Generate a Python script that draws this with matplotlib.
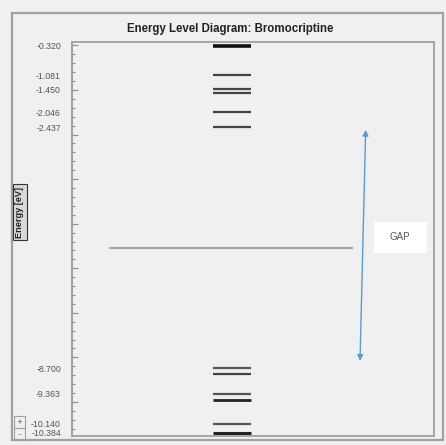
import numpy as np
import matplotlib
matplotlib.use("Agg")
import matplotlib.pyplot as plt
from matplotlib.patches import Rectangle
from matplotlib.ticker import FixedLocator

# ---- data ----
title = "Energy Level Diagram: Bromocriptine"
ylabel = "Energy [eV]"
unoccupied = [-0.320, -1.081, -1.450, -1.550, -2.046, -2.437]
occupied = [-8.700, -8.860, -9.363, -9.530, -10.140, -10.384]
tick_values = [-0.320, -1.081, -1.450, -2.046, -2.437, -8.700, -9.363, -10.140, -10.384]
tick_labels = ["-0.320", "-1.081", "-1.450", "-2.046", "-2.437", "-8.700", "-9.363", "-10.140", "-10.384"]
lumo = -2.437
homo = -8.700
gap_arrow_top = -2.50
gap_arrow_bottom = -8.51
gap_label = "GAP"

# ---- style ----
unocc_widths = [2.6, 1.6, 1.6, 1.6, 1.6, 1.6]
unocc_colors = ["#111111", "#444444", "#444444", "#444444", "#444444", "#444444"]
occ_widths = [1.6, 1.6, 1.6, 2.0, 1.6, 2.2]
occ_colors = ["#555555", "#444444", "#555555", "#222222", "#555555", "#222222"]

bg = "#f0f0f0"
frame = "#a0a0a0"

fig = plt.figure(figsize=(4.46, 4.45), dpi=100, facecolor=bg)
W, H = 446, 445

def fx(px):
    return px / W

def fy(py):
    return 1 - py / H

# outer window frame
fig.patches.append(Rectangle((fx(12), fy(440)), fx(443) - fx(12), fy(13) - fy(440),
                             transform=fig.transFigure, fill=False, edgecolor=frame, linewidth=1.6))

ax = fig.add_axes([fx(72), fy(436), fx(434) - fx(72), fy(42) - fy(436)])
ax.set_facecolor(bg)
ax.set_xlim(0, 1)
ax.set_ylim(-10.463, -0.216)
for s in ax.spines.values():
    s.set_color(frame)
    s.set_linewidth(1.3)

# energy levels
for e, lw, c in zip(unoccupied, unocc_widths, unocc_colors):
    ax.hlines(e, 0.3895, 0.4945, colors=c, linewidth=lw)
for e, lw, c in zip(occupied, occ_widths, occ_colors):
    ax.hlines(e, 0.3895, 0.4945, colors=c, linewidth=lw)

# midgap line
mid = (lumo + homo) / 2
ax.hlines(mid, 0.102, 0.776, colors="#a8a8a8", linewidth=1.6)

# gap arrow
ax.annotate("", xy=(0.8113, gap_arrow_top), xytext=(0.7956, gap_arrow_bottom),
            arrowprops=dict(arrowstyle="<|-|>", color="#5b9bd5", lw=1.0,
                            mutation_scale=8.5, shrinkA=0, shrinkB=0))

# gap label box
ax.add_patch(Rectangle((0.834, 0.4645), 0.146, 0.0787, transform=ax.transAxes,
                       facecolor="white", edgecolor="none", zorder=3))
ax.text(0.906, 0.504, gap_label, transform=ax.transAxes, ha="center", va="center",
        fontsize=7, color="#555555", family="Liberation Sans", zorder=4)

# ticks
ax.set_xticks([])
ax.set_yticks(tick_values)
ax.set_yticklabels(tick_labels, fontsize=6.3, color="#555555", family="Liberation Sans")
ax.tick_params(axis="y", which="major", length=0, pad=8)
minor_pos = np.arange(-0.305, -10.5, -0.2318)
ax.yaxis.set_minor_locator(FixedLocator(minor_pos))
ax.tick_params(axis="y", which="minor", direction="in", length=2.2, width=0.8, color="#909090")
sec = ax.secondary_yaxis("left")
sec.set_yticks(np.arange(-0.305, -10.5, -1.159))
sec.set_yticklabels([])
sec.tick_params(direction="in", length=4.0, width=0.8, color="#909090")
sec.spines["left"].set_color(frame)
sec.spines["left"].set_linewidth(1.3)

# title
fig.text(fx(230), fy(29), title, ha="center", va="center", fontsize=8.3,
         fontweight="bold", color="#222222", family="Liberation Sans")

# y label
fig.text(fx(20), fy(212), ylabel, ha="center", va="center", rotation=90, fontsize=6.6,
         fontweight="bold", color="#222222", family="Liberation Sans",
         bbox=dict(boxstyle="square,pad=0.25", facecolor="#d8d8d8", edgecolor="#333333", linewidth=0.8))

# small zoom widget bottom-left
for y0, sym in ((416, "+"), (428, "\u2013")):
    fig.patches.append(Rectangle((fx(14), fy(y0 + 12)), fx(25) - fx(14), fy(y0) - fy(y0 + 12),
                                 transform=fig.transFigure, fill=False, edgecolor=frame, linewidth=0.8))
    fig.text(fx(19.5), fy(y0 + 6), sym, ha="center", va="center", fontsize=5, color="#555555")

fig.savefig("out.png", dpi=100, facecolor=bg)
